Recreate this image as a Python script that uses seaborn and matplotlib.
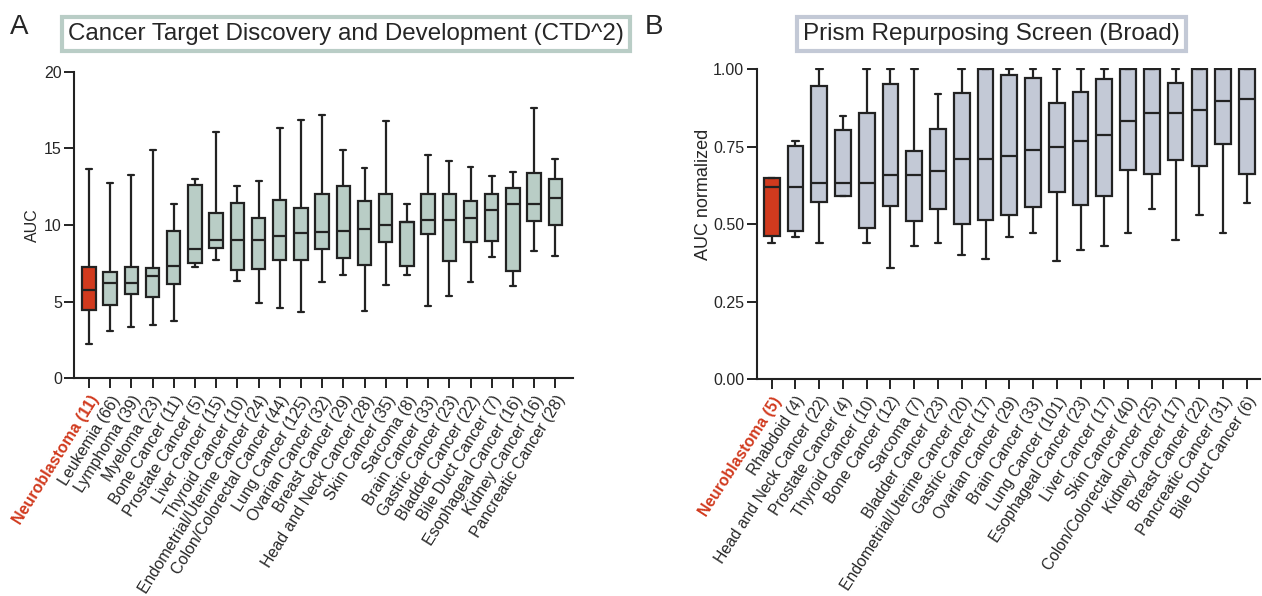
import matplotlib
matplotlib.use("Agg")
import matplotlib.pyplot as plt
import seaborn as sns
import pandas as pd

# Panel A: CTD^2, five-number summaries
cats_a = ["Neuroblastoma (11)", "Leukemia (66)", "Lymphoma (39)", "Myeloma (23)", "Bone Cancer (11)",
          "Prostate Cancer (5)", "Liver Cancer (15)", "Thyroid Cancer (10)", "Endometrial/Uterine Cancer (24)",
          "Colon/Colorectal Cancer (44)", "Lung Cancer (125)", "Ovarian Cancer (32)", "Breast Cancer (29)",
          "Head and Neck Cancer (28)", "Skin Cancer (35)", "Sarcoma (8)", "Brain Cancer (33)",
          "Gastric Cancer (23)", "Bladder Cancer (22)", "Bile Duct Cancer (7)", "Esophageal Cancer (16)",
          "Kidney Cancer (16)", "Pancreatic Cancer (28)"]
a_min = [2.24, 3.09, 3.33, 3.46, 3.76, 7.28, 7.72, 6.35, 4.93, 4.57, 4.35, 6.30, 6.76, 4.39, 6.09, 6.76,
         4.70, 5.39, 6.26, 7.91, 6.04, 8.30, 8.00]
a_q1 = [4.46, 4.78, 5.52, 5.33, 6.15, 7.54, 8.48, 7.07, 7.11, 7.72, 7.72, 8.43, 7.85, 7.41, 8.91, 7.33,
        9.39, 7.63, 8.89, 8.96, 7.02, 10.28, 10.00]
a_med = [5.76, 6.20, 6.24, 6.67, 7.35, 8.41, 9.04, 9.02, 9.04, 9.30, 9.46, 9.52, 9.63, 9.74, 10.00, 10.17,
         10.30, 10.35, 10.48, 11.00, 11.35, 11.39, 11.76]
a_q3 = [7.24, 6.96, 7.28, 7.17, 9.63, 12.61, 10.80, 11.41, 10.48, 11.61, 11.13, 12.02, 12.52, 11.59, 12.04,
        10.17, 12.00, 12.00, 11.57, 12.02, 12.43, 13.37, 12.98]
a_max = [13.65, 12.74, 13.26, 14.89, 11.35, 13.00, 16.04, 12.57, 12.85, 16.35, 16.85, 17.15, 14.87, 13.70,
         16.76, 11.35, 14.59, 14.17, 13.76, 13.22, 13.43, 17.61, 14.33]

# Panel B: Prism repurposing screen
cats_b = ["Neuroblastoma (5)", "Rhabdoid (4)", "Head and Neck Cancer (22)", "Prostate Cancer (4)",
          "Thyroid Cancer (10)", "Bone Cancer (12)", "Sarcoma (7)", "Bladder Cancer (23)",
          "Endometrial/Uterine Cancer (20)", "Gastric Cancer (17)", "Ovarian Cancer (29)", "Brain Cancer (33)",
          "Lung Cancer (101)", "Esophageal Cancer (23)", "Liver Cancer (17)", "Skin Cancer (40)",
          "Colon/Colorectal Cancer (25)", "Kidney Cancer (17)", "Breast Cancer (22)",
          "Pancreatic Cancer (31)", "Bile Duct Cancer (6)"]
b_min = [0.438, 0.458, 0.44, 0.589, 0.44, 0.359, 0.429, 0.44, 0.399, 0.389, 0.459, 0.47, 0.38, 0.418,
         0.429, 0.47, 0.549, 0.449, 0.529, 0.47, 0.569]
b_q1 = [0.461, 0.478, 0.572, 0.589, 0.488, 0.558, 0.51, 0.55, 0.50, 0.514, 0.530, 0.556, 0.605, 0.560,
        0.590, 0.675, 0.66, 0.705, 0.687, 0.759, 0.66]
b_med = [0.618, 0.618, 0.634, 0.634, 0.634, 0.659, 0.659, 0.67, 0.709, 0.709, 0.719, 0.739, 0.749, 0.769,
         0.788, 0.833, 0.858, 0.858, 0.867, 0.898, 0.903]
b_q3 = [0.647, 0.752, 0.945, 0.804, 0.859, 0.951, 0.737, 0.806, 0.924, 1.0, 0.982, 0.971, 0.891, 0.926,
        0.966, 1.0, 1.0, 0.956, 1.0, 1.0, 1.0]
b_max = [0.647, 0.769, 1.0, 0.848, 1.0, 1.0, 1.0, 0.919, 1.0, 1.0, 1.0, 1.0, 1.0, 1.0, 1.0, 1.0, 1.0, 1.0,
         1.0, 1.0, 1.0]

red = "#d13a1e"
green = "#b9cdc6"
blue = "#c3c9d6"
dark = "#222222"


def long_table(cats, *cols):
    # five values per category -> with whis=(0, 100) the box shows exactly min/q1/med/q3/max
    rows = []
    for i, c in enumerate(cats):
        for col in cols:
            rows.append((c, col[i]))
    return pd.DataFrame(rows, columns=["cat", "val"])


df_a = long_table(cats_a, a_min, a_q1, a_med, a_q3, a_max)
df_b = long_table(cats_b, b_min, b_q1, b_med, b_q3, b_max)

sns.set_style("ticks")
plt.rcParams["font.family"] = ["Liberation Sans", "DejaVu Sans"]

fig = plt.figure(figsize=(12.62, 5.96), dpi=100)
ax1 = fig.add_axes([0.0589, 0.3653, 0.3949, 0.5144])
ax2 = fig.add_axes([0.5996, 0.3636, 0.3988, 0.5228])


def draw(ax, df, cats, fill, width, rot, fs):
    pal = {c: fill for c in cats}
    pal[cats[0]] = red
    sns.boxplot(data=df, x="cat", y="val", hue="cat", order=cats, hue_order=cats, palette=pal,
                legend=False, whis=(0, 100), width=width, saturation=1, linecolor=dark,
                linewidth=1.6, capwidths=0.28, ax=ax)
    ax.set_xlabel("")
    for s in ["top", "right"]:
        ax.spines[s].set_visible(False)
    for s in ["left", "bottom"]:
        ax.spines[s].set_linewidth(1.5)
        ax.spines[s].set_color(dark)
    ax.tick_params(axis="both", direction="out", length=7, width=1.4, color=dark)
    ax.tick_params(axis="y", labelsize=11.5, pad=2)
    ax.set_xticks(range(len(cats)))
    ax.set_xticklabels(cats, rotation=rot, ha="right", rotation_mode="anchor", fontsize=fs)
    lbl = ax.get_xticklabels()[0]
    lbl.set_color(red)
    lbl.set_fontweight("bold")


draw(ax1, df_a, cats_a, green, 0.63, 58, 11.5)
ax1.set_xlim(-0.69, 22.82)
ax1.set_ylim(0, 20)
ax1.set_yticks([0, 5, 10, 15, 20])
ax1.set_ylabel("AUC", fontsize=11.5, labelpad=3)

draw(ax2, df_b, cats_b, blue, 0.66, 57, 11.3)
ax2.set_xlim(-0.63, 20.55)
ax2.set_ylim(0, 1.004)
ax2.spines["left"].set_bounds(0, 1)
ax2.set_yticks([0, 0.25, 0.5, 0.75, 1.0])
ax2.set_yticklabels(["0.00", "0.25", "0.50", "0.75", "1.00"])
ax2.set_ylabel("AUC normalized", fontsize=13, labelpad=1, y=0.595)

# panel letters and boxed titles
fig.text(0.008, 0.955, "A", fontsize=20, va="center", ha="left")
fig.text(0.511, 0.955, "B", fontsize=20, va="center", ha="left")
fig.text(0.0539, 0.943, "Cancer Target Discovery and Development (CTD^2)", fontsize=17.4, va="center",
         ha="left", bbox=dict(boxstyle="square,pad=0.25", fc="white", ec=green, lw=3))
fig.text(0.6363, 0.943, "Prism Repurposing Screen (Broad)", fontsize=17.5, va="center", ha="left",
         bbox=dict(boxstyle="square,pad=0.25", fc="white", ec=blue, lw=3))

fig.savefig("out.png", dpi=100)
